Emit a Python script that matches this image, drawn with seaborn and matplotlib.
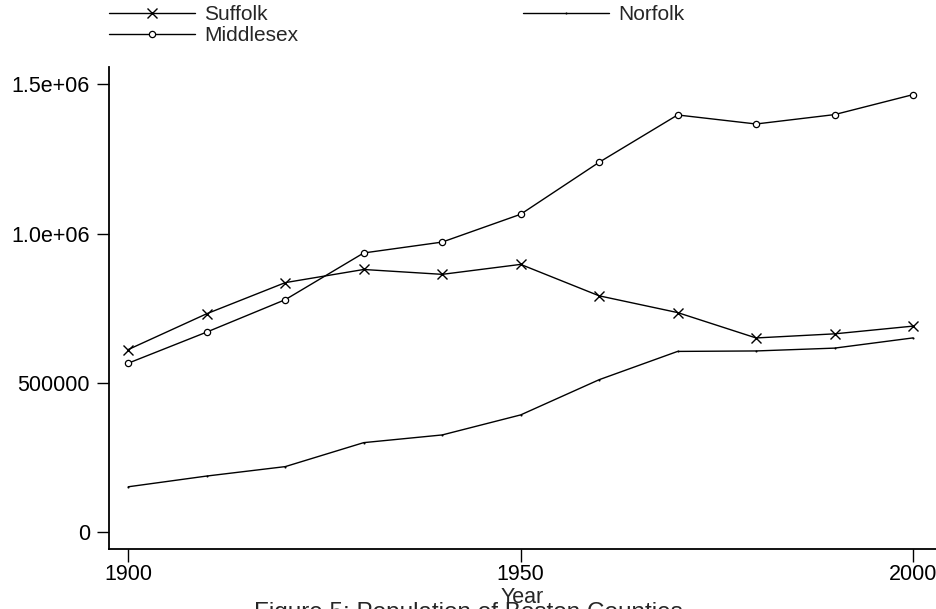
import matplotlib
matplotlib.use("Agg")
import matplotlib.pyplot as plt
import seaborn as sns
import pandas as pd

# Decennial census population of the Boston-area counties
years = [1900, 1910, 1920, 1930, 1940, 1950, 1960, 1970, 1980, 1990, 2000]
suffolk = [611417, 731388, 835522, 879536, 863248, 896615, 791329, 735190, 650142, 663906, 689807]
norfolk = [151539, 187506, 219081, 299426, 325180, 392308, 510256, 605051, 606587, 616087, 650308]
middlesex = [565696, 669915, 778352, 934924, 971390, 1064569, 1238742, 1397268, 1367034, 1398468, 1465396]

y_ticks = [0, 500000, 1000000, 1500000]
y_tick_labels = ["0", "500000", "1.0e+06", "1.5e+06"]
x_ticks = [1900, 1950, 2000]
x_tick_labels = ["1900", "1950", "2000"]

df = pd.DataFrame({"Year": years, "Suffolk": suffolk,
                   "Norfolk": norfolk, "Middlesex": middlesex})

sns.set_style("ticks")
plt.rcParams["font.family"] = ["Liberation Sans", "DejaVu Sans"]

fig = plt.figure(figsize=(9.36, 6.09), dpi=100)
ax = fig.add_axes([0.1168, 0.0985, 0.8832, 0.7915])

sns.lineplot(data=df, x="Year", y="Suffolk", ax=ax, color="black", lw=1.0,
             marker="x", markersize=7, markeredgecolor="black",
             markeredgewidth=1.0, label="Suffolk")
sns.lineplot(data=df, x="Year", y="Middlesex", ax=ax, color="black", lw=1.0,
             marker="o", markersize=4.5, markerfacecolor="white",
             markeredgecolor="black", markeredgewidth=0.9, label="Middlesex")
sns.lineplot(data=df, x="Year", y="Norfolk", ax=ax, color="black", lw=1.0,
             marker=".", markersize=1.5, markeredgecolor="black",
             label="Norfolk")

ax.set_xlim(1897.58, 2002.93)
ax.set_ylim(-57000, 1558000)
ax.set_xticks(x_ticks, x_tick_labels)
ax.set_yticks(y_ticks, y_tick_labels)
ax.tick_params(axis="both", which="major", length=9, width=1.0,
               color="black", labelsize=15.5, labelcolor="black")
ax.tick_params(axis="y", pad=5)
ax.tick_params(axis="x", pad=2)
for side in ("top", "right"):
    ax.spines[side].set_visible(False)
for side in ("left", "bottom"):
    ax.spines[side].set_color("black")
    ax.spines[side].set_linewidth(1.3)

ax.set_xlabel("Year", fontsize=15.5, labelpad=1)
ax.set_ylabel("")

handles, labels = ax.get_legend_handles_labels()
order = [labels.index(n) for n in ("Suffolk", "Middlesex", "Norfolk")]
fig.legend([handles[i] for i in order], [labels[i] for i in order],
           loc="upper left", bbox_to_anchor=(0.108, 1.005), ncol=2,
           frameon=False, fontsize=15, handlelength=4.1,
           handletextpad=0.45, labelspacing=0.1, columnspacing=10.8,
           borderaxespad=0.0)
ax.get_legend().remove()

# Caption sits at the lower edge of the canvas
fig.text(0.5, 0.0115, "Figure 5: Population of Boston Counties",
         ha="center", va="top", fontsize=17.5)

fig.savefig("out.png", dpi=100)
